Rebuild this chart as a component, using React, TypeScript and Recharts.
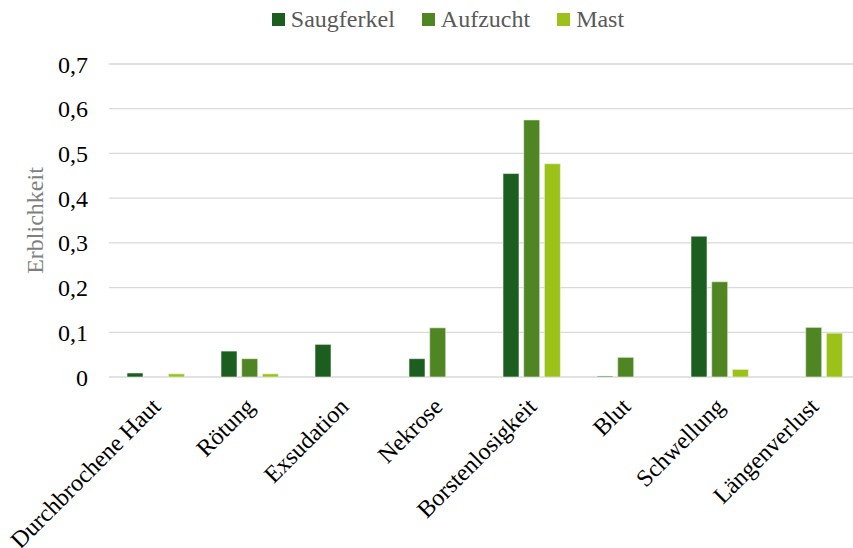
import { BarChart, Bar, XAxis, YAxis, CartesianGrid, Legend } from "recharts";

const categories = [
  "Durchbrochene Haut",
  "Rötung",
  "Exsudation",
  "Nekrose",
  "Borstenlosigkeit",
  "Blut",
  "Schwellung",
  "Längenverlust",
];
const saugferkel = [0.009, 0.058, 0.073, 0.041, 0.455, 0.002, 0.315, 0];
const aufzucht = [0, 0.041, 0, 0.11, 0.575, 0.044, 0.213, 0.111];
const mast = [0.007, 0.007, 0, 0, 0.477, 0, 0.017, 0.098];
const yTicks = [0, 0.1, 0.2, 0.3, 0.4, 0.5, 0.6, 0.7];

const SERIES = [
  { key: "Saugferkel", color: "#1b5e20" },
  { key: "Aufzucht", color: "#4f8623" },
  { key: "Mast", color: "#9cc21a" },
];

const FONT = "Liberation Serif";

const data = categories.map((name, i) => ({
  name,
  Saugferkel: saugferkel[i],
  Aufzucht: aufzucht[i],
  Mast: mast[i],
}));

const fmt = (v: number) => (v === 0 ? "0" : v.toFixed(1).replace(".", ","));

function CategoryTick({ x, y, payload }: any) {
  return (
    <g transform={`translate(${x + 6},${y + 31})`}>
      <text
        transform="rotate(-45)"
        textAnchor="end"
        style={{ fontFamily: FONT, fontSize: 24 }}
        fill="#000"
      >
        {payload.value}
      </text>
    </g>
  );
}

function renderLegend() {
  return (
    <div
      style={{
        height: 64,
        boxSizing: "border-box",
        paddingTop: 6,
        paddingLeft: 35,
        display: "flex",
        justifyContent: "center",
        alignItems: "flex-start",
        fontFamily: FONT,
        fontSize: 24,
        color: "#595959",
      }}
    >
      {SERIES.map((s, i) => (
        <div
          key={s.key}
          style={{
            display: "flex",
            alignItems: "center",
            marginLeft: i === 0 ? 0 : 27,
          }}
        >
          <span
            style={{
              width: 13,
              height: 13,
              background: s.color,
              display: "inline-block",
              marginRight: 6,
            }}
          />
          <span>{s.key}</span>
        </div>
      ))}
    </div>
  );
}

export default function App() {
  return (
    <div
      style={{
        position: "fixed",
        left: 0,
        top: 0,
        width: 853,
        height: 548,
        overflow: "hidden",
        background: "#fff",
        fontFamily: FONT,
      }}
    >
      <BarChart
        width={861}
        height={548}
        data={data}
        margin={{ top: 0, right: 0, bottom: 0, left: 0 }}
        barSize={16}
        barGap={4.7}
        style={{ fontFamily: FONT }}
      >
        <CartesianGrid vertical={false} stroke="#d9d9d9" strokeWidth={1.3} />
        <XAxis
          dataKey="name"
          height={171}
          axisLine={false}
          tickLine={false}
          tickSize={0}
          tickMargin={0}
          interval={0}
          tick={<CategoryTick />}
        />
        <YAxis
          width={109}
          domain={[0, 0.7]}
          ticks={yTicks}
          tickFormatter={fmt}
          axisLine={false}
          tickLine={false}
          tickSize={0}
          tickMargin={21}
          tick={{ fontSize: 24, fill: "#000", style: { fontFamily: FONT } }}
          label={{
            value: "Erblichkeit",
            angle: -90,
            position: "center",
            dx: -20,
            style: { fontFamily: FONT, fontSize: 24, fill: "#7f7f7f" },
          }}
        />
        <Legend verticalAlign="top" align="center" content={renderLegend} />
        {SERIES.map((s) => (
          <Bar
            key={s.key}
            dataKey={s.key}
            fill={s.color}
            stroke="#eef4e8"
            strokeWidth={0.6}
            isAnimationActive={false}
          />
        ))}
      </BarChart>
    </div>
  );
}
